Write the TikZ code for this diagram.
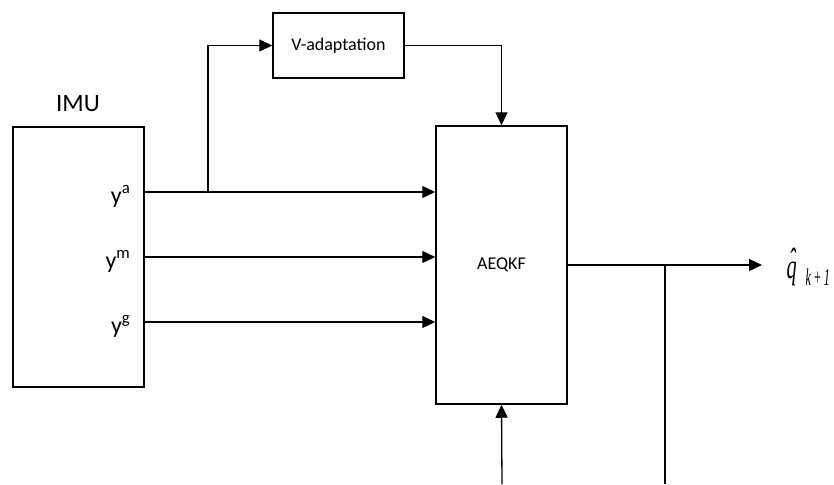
\documentclass[tikz,border=0pt]{standalone}
\usepackage{fontspec}
\setmainfont{Carlito}
\newfontfamily\qfont{Liberation Serif}
\usetikzlibrary{arrows.meta}
\begin{document}
\begin{tikzpicture}[x=1pt,y=-1pt,
  line width=1.3pt,
  blk/.style={draw,line width=1.5pt,inner sep=0pt},
  arr/.style={-{Triangle[length=13pt,width=12pt]}},
  lbl/.style={font=\fontsize{18}{20}\selectfont},
  sig/.style={font=\fontsize{24}{26}\selectfont,inner sep=0pt,anchor=base east},
  est/.style={inner sep=0pt,font=\qfont\itshape}]
  \useasboundingbox (0,0) rectangle (834,484);

  % blocks
  \node[blk,minimum width=131pt,minimum height=260pt] (imu) at (78.5,257) {};
  \node[font=\fontsize{25}{27}\selectfont,inner sep=0pt,anchor=base] (imulbl) at (78,112) {IMU};
  \node[blk,minimum width=131pt,minimum height=65pt,lbl] (vad) at (338.5,45.5) {V-adaptation};
  \node[blk,minimum width=131pt,minimum height=278pt,lbl] (kf) at (501.5,265) {AEQKF};

  % sensor outputs
  \node[sig] (ya) at (131,203) {y\textsuperscript{a}};
  \node[sig] (ym) at (131,268) {y\textsuperscript{m}};
  \node[sig] (yg) at (131,333) {y\textsuperscript{g}};

  % estimate label: q with hat, subscript k+1
  \node[est,anchor=base west] (q) at (786,278)
    {\scalebox{0.58}[1]{\fontsize{35}{37}\selectfont
      \rlap{\raisebox{6pt}{\hspace{4pt}ˆ}}q}};
  \node[est,anchor=base west] (qsub) at (805,285)
    {\scalebox{0.5}[1]{\fontsize{24}{26}\selectfont k \textup{+} 1}};

  % junction and free-end coordinates
  \coordinate (ja) at (208,192);
  \coordinate (jo) at (665,265);
  \coordinate (qin) at (762,265);
  \coordinate (bin) at (502,484);
  \coordinate (bout) at (665,484);

  % connectors
  \draw[arr] (imu.east |- ja) -- (kf.west |- ja);
  \draw[arr] (imu.east |- 0,257) -- (kf.west |- 0,257);
  \draw[arr] (imu.east |- 0,322) -- (kf.west |- 0,322);
  \draw[arr] (ja) |- (vad.west);
  \draw[arr] (vad.east) -| (kf.north);
  \draw[arr] (kf.east |- jo) -- (qin);
  \draw (jo) -- (bout);
  \draw[arr] (bin) -- (kf.south);
\end{tikzpicture}
\end{document}
